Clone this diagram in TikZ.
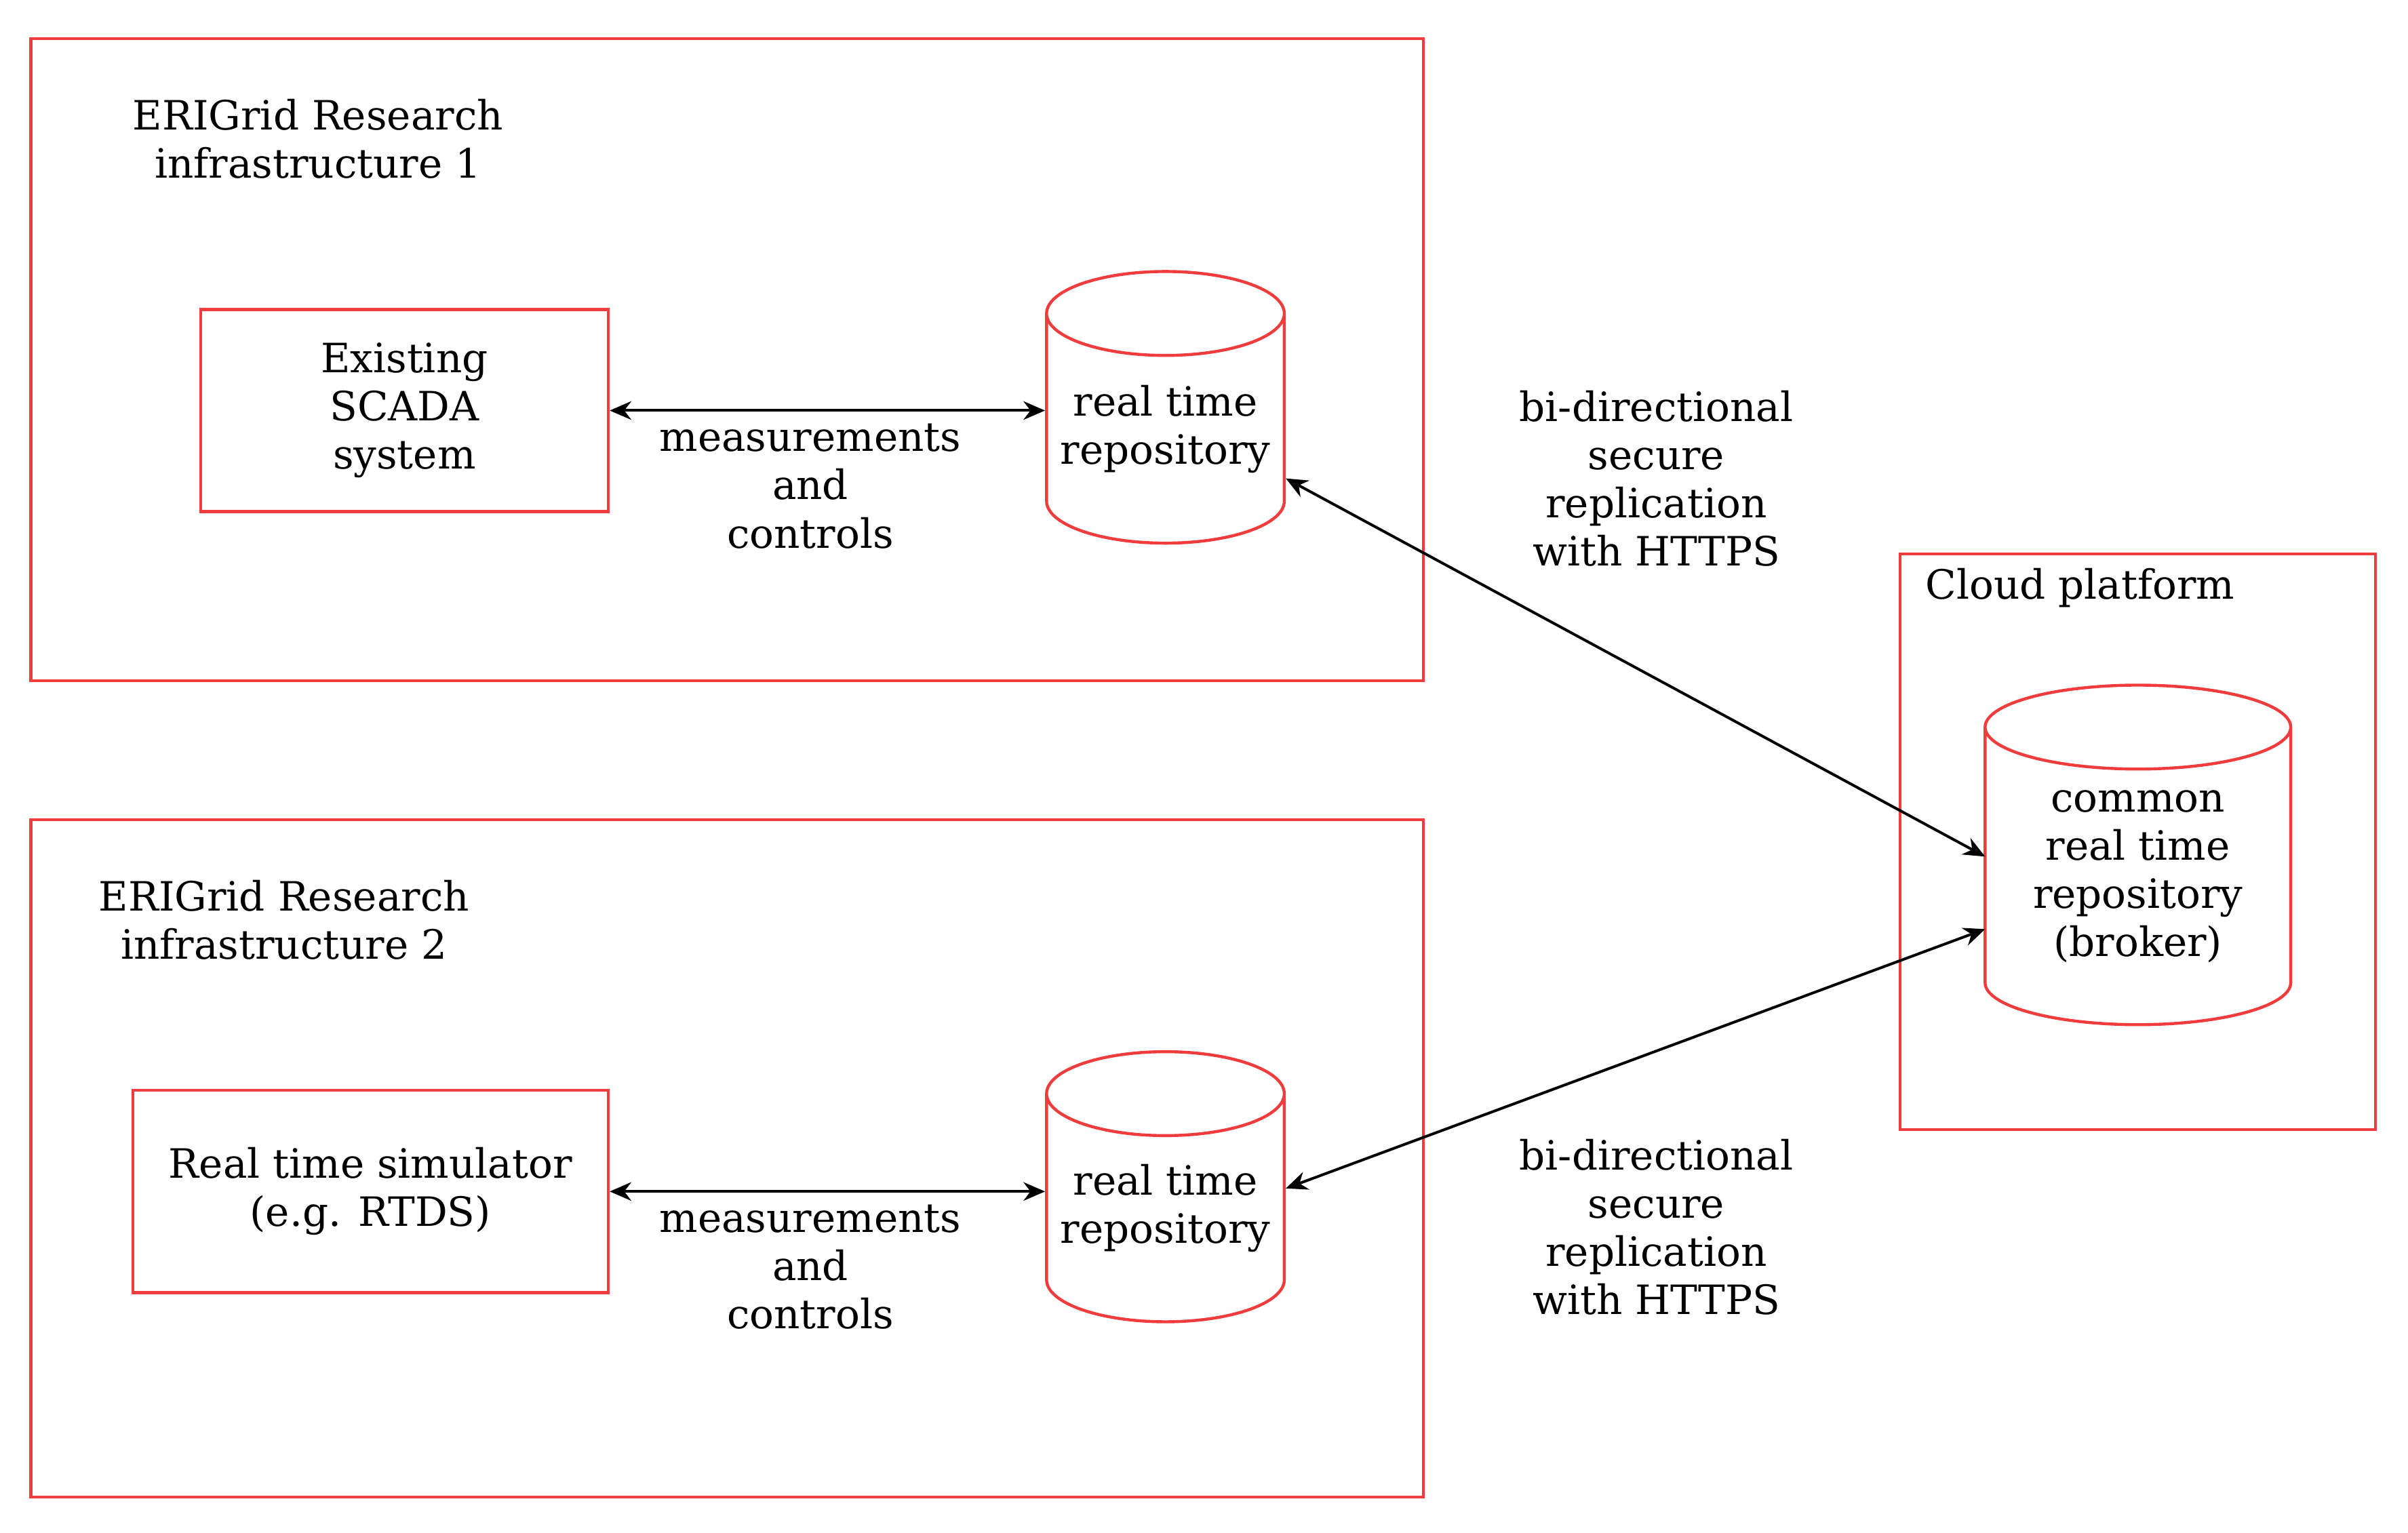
\documentclass[tikz,border=0pt]{standalone}
\usepackage{fontspec}
\setmainfont{DejaVu Serif}
\usetikzlibrary{shapes.geometric, arrows.meta, positioning}
\definecolor{frameRed}{HTML}{F03C3C}
\tikzset{
    % Frames and boxes
    infraFrame/.style={draw=frameRed, line width=0.55pt},
    sysBox/.style={draw=frameRed, line width=0.55pt, align=center, inner sep=0pt},
    repoCyl/.style={cylinder, shape border rotate=90, draw=frameRed, line width=0.55pt,
        align=center, inner sep=0pt, aspect=0.4},
    % Text
    txt/.style={font=\fontsize{7.45}{8.9}\selectfont, align=center},
    % Connectors
    biArrow/.style={{Stealth[length=1.4mm,width=1.2mm]}-{Stealth[length=1.4mm,width=1.2mm]}, line width=0.5pt}
}
\begin{document}
\begin{tikzpicture}
    \useasboundingbox (0,0) rectangle (15.6,9.93);
    % Frames
    \draw[infraFrame] (0.20,5.52) rectangle (9.22,9.68);
    \draw[infraFrame] (0.20,0.23) rectangle (9.22,4.62);
    \draw[infraFrame] (12.31,2.61) rectangle (15.39,6.34);
    \node[txt] (lblOne) at (2.06,9.03) {ERIGrid Research\\infrastructure 1};
    \node[txt] (lblTwo) at (1.84,3.97) {ERIGrid Research\\infrastructure 2};
    \node[txt, anchor=west] (lblCloud) at (12.35,6.12) {Cloud platform};
    % Infrastructure 1
    \node[sysBox, txt, minimum width=2.64cm, minimum height=1.31cm] (scada) at (2.62,7.27) {Existing\\SCADA\\system};
    \node[repoCyl, txt, minimum width=1.54cm, minimum height=1.76cm] (repoOne) at (7.55,7.15) {real time\\repository};
    % Infrastructure 2
    \node[sysBox, txt, minimum width=3.08cm, minimum height=1.31cm] (rtds) at (2.40,2.21) {Real time simulator\\(e.g. RTDS)};
    \node[repoCyl, txt, minimum width=1.54cm, minimum height=1.75cm] (repoTwo) at (7.55,2.10) {real time\\repository};
    % Cloud
    \node[repoCyl, txt, minimum width=1.98cm, minimum height=2.20cm] (broker) at (13.85,4.25) {common\\real time\\repository\\(broker)};
    % Connectors
    \draw[biArrow] (scada.east) -- (repoOne.west |- scada.east);
    \draw[biArrow] (rtds.east) -- (repoTwo.west |- rtds.east);
    \node[txt] (mcOne) at (5.25,6.78) {measurements\\and\\controls};
    \node[txt] (mcTwo) at (5.25,1.72) {measurements\\and\\controls};
    \coordinate (brkUp) at (12.86,4.38);
    \coordinate (brkLow) at (12.86,3.91);
    \draw[biArrow] (repoOne.east |- 0,6.83) -- (brkUp);
    \draw[biArrow] (repoTwo.east |- 0,2.23) -- (brkLow);
    \node[txt] (repOne) at (10.73,6.83) {bi-directional\\secure\\replication\\with HTTPS};
    \node[txt] (repTwo) at (10.73,1.98) {bi-directional\\secure\\replication\\with HTTPS};
\end{tikzpicture}
\end{document}
